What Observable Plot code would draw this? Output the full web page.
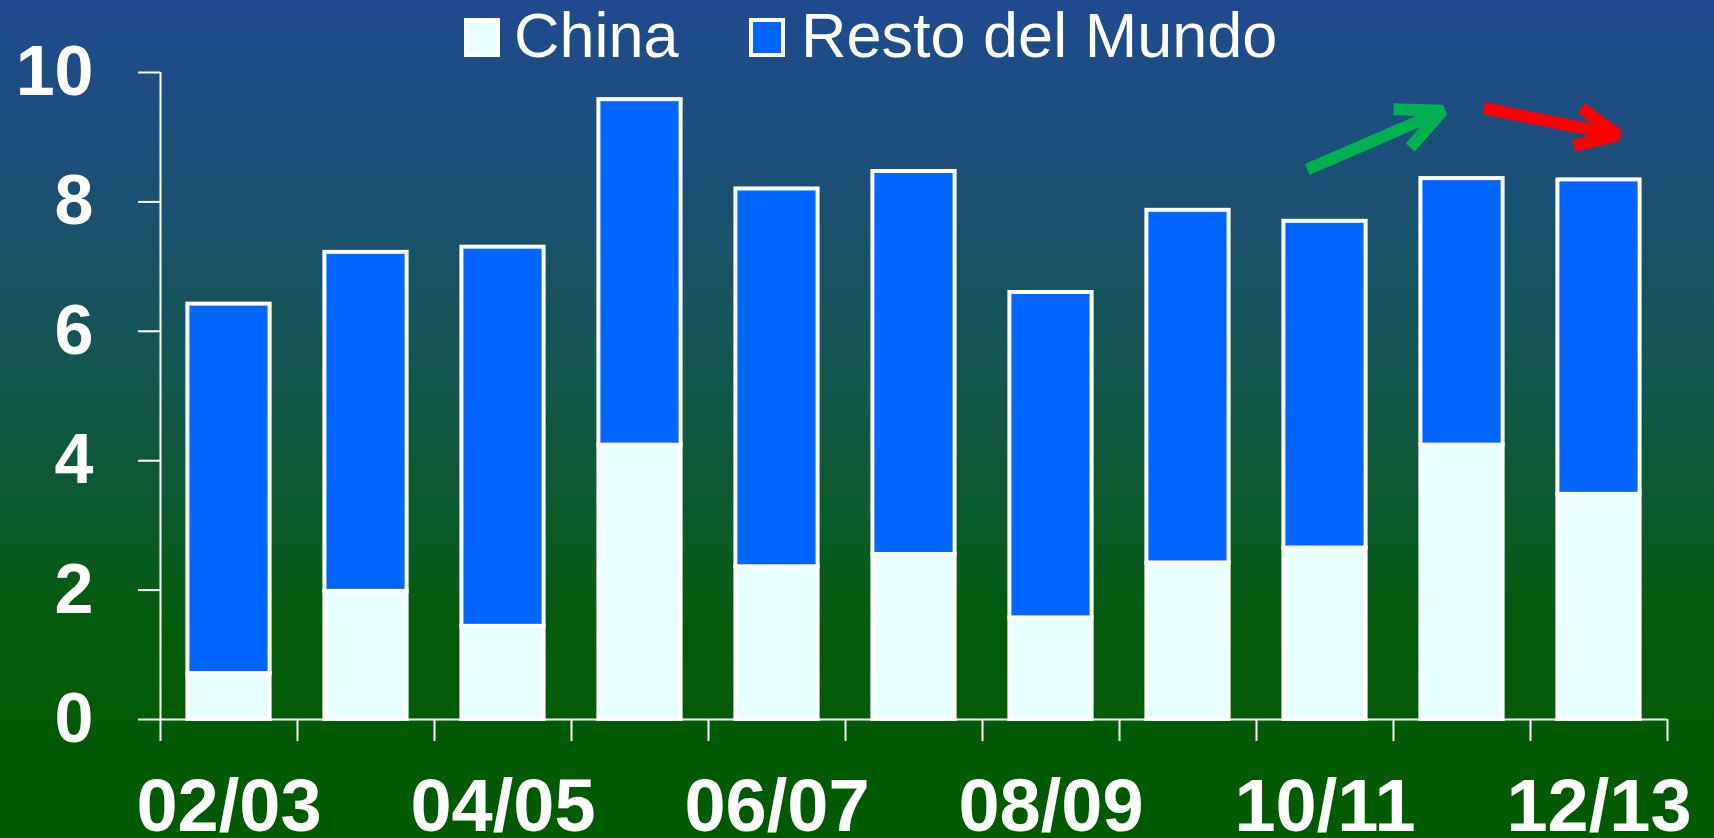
<!DOCTYPE html>
<html>
<head>
<meta charset="utf-8">
<script src="https://cdn.jsdelivr.net/npm/d3@7"></script>
<script src="https://cdn.jsdelivr.net/npm/@observablehq/plot@0.6"></script>
<style>
  html, body { margin: 0; padding: 0; }
  body {
    width: 1714px; height: 838px; overflow: hidden; position: relative;
    background: linear-gradient(to bottom, #1f4a8f 0%, #1b4f78 20%, #13564f 45%, #0a5a2a 62%, #035b08 75%, #005a00 100%);
    font-family: "Liberation Sans", Arial, sans-serif;
  }
  #legend { position: absolute; left: 0; top: 0; width: 1714px; height: 70px; color: white; }
  #legend .sw { position: absolute; box-sizing: border-box; border: 4px solid white; }
  #legend .lb { position: absolute; font-size: 63px; line-height: 63px; white-space: nowrap; }
  #chart { position: absolute; left: 0; top: 0; }
</style>
</head>
<body>
<div id="chart"></div>
<div id="legend"></div>
<script>
// ---- data ----
const seasons = ["02/03","03/04","04/05","05/06","06/07","07/08","08/09","09/10","10/11","11/12","12/13"];
const totals  = [6.42, 7.22, 7.30, 9.58, 8.20, 8.47, 6.60, 7.87, 7.70, 8.36, 8.34];
const china   = [0.71, 1.98, 1.44, 4.24, 2.36, 2.55, 1.57, 2.42, 2.65, 4.24, 3.48];
const seriesNames = ["China", "Resto del Mundo"];
const seriesColors = ["#e8ffff", "#0066ff"];
const yTicks = [0, 2, 4, 6, 8, 10];
// trend arrows (in data space: x = season index, y = value)
const arrowStart = [[8.37, 8.50], [9.66, 9.45]];
const arrowEnd   = [[9.36, 9.41], [10.64, 9.03]];
const arrowColors = ["#00b050", "#ff0000"];

// ---- build table ----
const rows = [];
seasons.forEach((s, i) => {
  rows.push({i, season: s, series: seriesNames[0], value: china[i]});
  rows.push({i, season: s, series: seriesNames[1], value: +(totals[i] - china[i]).toFixed(2)});
});
const arrows = arrowStart.map((a, k) => ({x1: a[0], y1: a[1], x2: arrowEnd[k][0], y2: arrowEnd[k][1], color: arrowColors[k]}));
const boundaries = d3.range(seasons.length + 1);
const labelPos = seasons.map((_, i) => i + 0.5).filter((_, i) => i % 2 === 0);

const chart = Plot.plot({
  width: 1714,
  height: 838,
  marginLeft: 160,
  marginRight: 47,
  marginTop: 72,
  marginBottom: 119,
  style: {background: "transparent", color: "white", fontFamily: "'Liberation Sans', Arial, sans-serif", overflow: "visible"},
  x: {type: "linear", domain: [0, seasons.length]},
  y: {domain: [0, 10]},
  color: {domain: seriesNames, range: seriesColors},
  marks: [
    Plot.rectY(rows, Plot.stackY({
      x1: d => d.i + 0.2,
      x2: d => d.i + 0.8,
      y: "value",
      fill: "series",
      stroke: "white",
      strokeWidth: 4
    })),
    Plot.ruleX([0], {y1: 0, y2: 10, stroke: "white", strokeWidth: 2}),
    Plot.ruleY([0], {stroke: "white", strokeWidth: 2}),
    Plot.axisY({ticks: yTicks, tickSize: 22, tickPadding: 45, strokeWidth: 2, fontSize: 70, fontWeight: "bold", label: null, fill: "white"}),
    Plot.axisX({ticks: boundaries, tickFormat: () => "", tickSize: 22, strokeWidth: 2, label: null}),
    Plot.axisX({ticks: labelPos, tickFormat: v => seasons[Math.floor(v)], tickSize: 0, tickPadding: 59, fontSize: 74, fontWeight: "bold", label: null, fill: "white"}),
    Plot.arrow(arrows, {x1: "x1", y1: "y1", x2: "x2", y2: "y2", stroke: "color", strokeWidth: 12, headLength: 10, headAngle: 50, strokeLinecap: "butt"})
  ]
});
document.getElementById("chart").appendChild(chart);

// ---- legend ----
const legend = document.getElementById("legend");
const legendLayout = [
  {sw: 464, text: 514},
  {sw: 749, text: 801}
];
seriesNames.forEach((name, k) => {
  const sw = document.createElement("div");
  sw.className = "sw";
  sw.style.left = legendLayout[k].sw + "px";
  sw.style.top = "18px";
  sw.style.width = "36px";
  sw.style.height = "39px";
  sw.style.background = seriesColors[k];
  legend.appendChild(sw);
  const lb = document.createElement("div");
  lb.className = "lb";
  lb.style.left = legendLayout[k].text + "px";
  lb.style.top = "4px";
  lb.textContent = name;
  legend.appendChild(lb);
});
</script>
</body>
</html>
